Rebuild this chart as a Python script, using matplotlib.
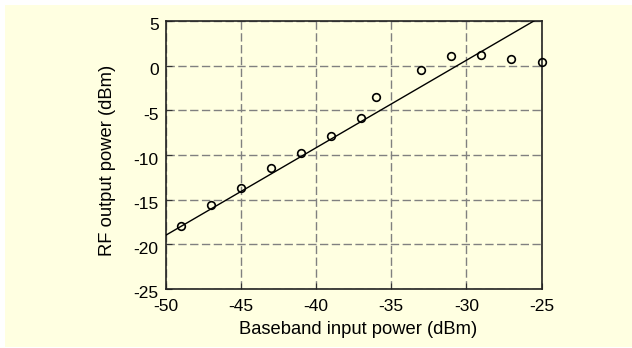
import matplotlib
matplotlib.use("Agg")
import matplotlib.pyplot as plt
import matplotlib.transforms as mtransforms
from matplotlib.patches import Rectangle
import numpy as np

# Measured RF output vs. baseband input
input_dbm = [-49, -47, -45, -43, -41, -39, -37, -36, -33, -31, -29, -27, -25]
output_dbm = [-18.0, -15.6, -13.7, -11.4, -9.8, -7.9, -5.9, -3.55, -0.5, 1.05, 1.25, 0.75, 0.45]

# Linear gain fit
fit_slope = 0.98
fit_intercept = 30.0

x_ticks = [-50, -45, -40, -35, -30, -25]
y_ticks = [-25, -20, -15, -10, -5, 0, 5]

plt.rcParams['font.family'] = ['Liberation Sans', 'DejaVu Sans']
plt.rcParams['axes.unicode_minus'] = False

W, H = 632, 348
fig = plt.figure(figsize=(W / 100, H / 100), dpi=100, facecolor='white')
bg = '#FFFFE1'
fig.patches.append(Rectangle((5 / W, 1 / H), 1 - 5 / W, 1 - 6 / H,
                             transform=fig.transFigure, facecolor=bg,
                             edgecolor='none', zorder=-10))

ax = fig.add_axes([165.5 / W, 1 - 289 / H, 376 / W, 268 / H])
ax.set_facecolor(bg)

fx = np.array([x_ticks[0], x_ticks[-1]], dtype=float)
ax.plot(fx, fit_slope * fx + fit_intercept, color='black', lw=1.0, zorder=3)
ax.plot(input_dbm, output_dbm, linestyle='none', marker='o', ms=5.5,
        mfc='none', mec='black', mew=1.2, zorder=4, clip_on=False)

ax.set_xlim(x_ticks[0], x_ticks[-1])
ax.set_ylim(y_ticks[0], y_ticks[-1])
ax.set_xticks(x_ticks)
ax.set_yticks(y_ticks)
ax.grid(True, color='#808080', linestyle=(0, (6, 2.5)), lw=1.0)
ax.tick_params(direction='in', length=4, labelsize=12.5, color='#333333')
ax.tick_params(axis='x', pad=7.5)
ax.tick_params(axis='y', pad=5)
for s in ax.spines.values():
    s.set_linewidth(1.2)
    s.set_color('#222222')

# nudge y tick labels slightly downward
shift = mtransforms.ScaledTranslation(0, -3.5 / 100, fig.dpi_scale_trans)
for lbl in ax.get_yticklabels():
    lbl.set_transform(lbl.get_transform() + shift)

ax.set_xlabel('Baseband input power (dBm)', fontsize=13.2)
ax.set_ylabel('RF output power (dBm)', fontsize=13.2)
ax.xaxis.set_label_coords(0.512, -0.119)
ax.yaxis.set_label_coords(-0.132, 0.481)

fig.savefig('out.png', dpi=100, facecolor='white')
